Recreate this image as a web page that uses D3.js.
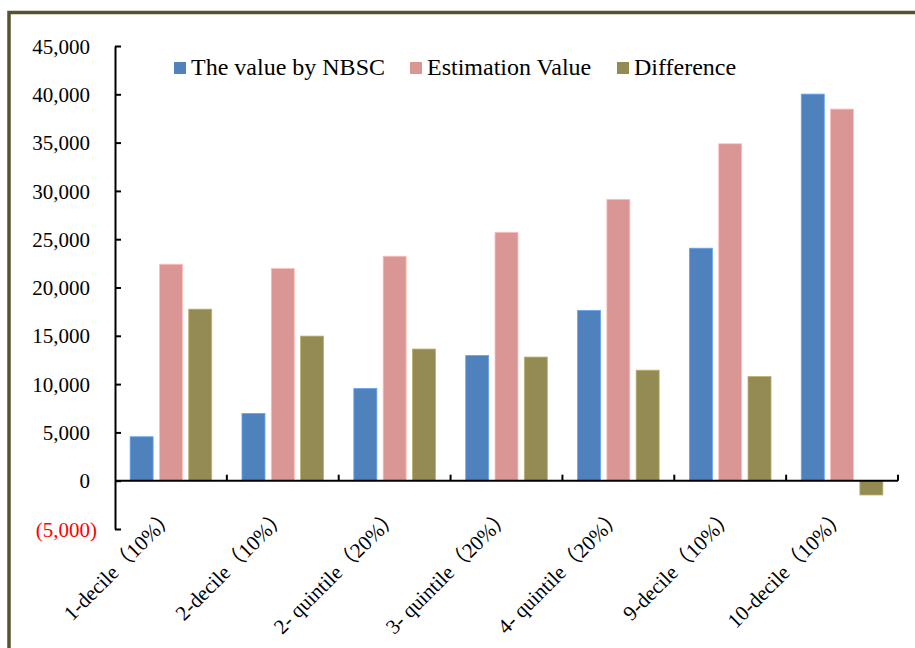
<!DOCTYPE html>
<html>
<head>
<meta charset="utf-8">
<script src="https://cdn.jsdelivr.net/npm/d3@7/dist/d3.min.js"></script>
<style>
  html, body { margin: 0; padding: 0; background: #fff; }
  svg { display: block; }
  text { font-family: "Liberation Serif", "Times New Roman", "Noto Sans CJK SC", serif; }
</style>
</head>
<body>
<svg id="chart" width="915" height="648"></svg>
<script>
// Income groups and the three compared series
const categories = [
  "1-decile（10%）",
  "2-decile（10%）",
  "2- quintile（20%）",
  "3- quintile（20%）",
  "4- quintile（20%）",
  "9-decile（10%）",
  "10-decile（10%）"
];
const seriesNames = ["The value by NBSC", "Estimation Value", "Difference"];
const nbscValues = [4550, 6960, 9550, 12970, 17630, 24070, 40020];
const estimationValues = [22410, 21970, 23240, 25720, 29130, 34880, 38470];
const differenceValues = [17760, 14970, 13630, 12800, 11440, 10780, -1480];
const yTicks = [-5000, 0, 5000, 10000, 15000, 20000, 25000, 30000, 35000, 40000, 45000];
const seriesColors = ["#4F81BD", "#D99694", "#948A54"];

const svg = d3.select("#chart");

// outer frame
svg.append("rect")
  .attr("x", 9).attr("y", 12.5)
  .attr("width", 940).attr("height", 700)
  .attr("fill", "none")
  .attr("stroke", "#57532F")
  .attr("stroke-width", 3.5);

const plot = { left: 115, right: 898, top: 46, bottom: 529 };

const y = d3.scaleLinear()
  .domain([-5000, 45000])
  .range([plot.bottom, plot.top]);

const x = d3.scaleBand()
  .domain(categories)
  .range([plot.left, plot.right])
  .paddingInner(0).paddingOuter(0);

const xs = d3.scaleBand()
  .domain(seriesNames)
  .range([0, x.bandwidth()])
  .paddingInner(0.215)
  .paddingOuter(0.516);

const seriesValues = [nbscValues, estimationValues, differenceValues];

// bars
seriesNames.forEach((name, si) => {
  const c = seriesColors[si];
  svg.append("g")
    .selectAll("rect")
    .data(seriesValues[si].map((v, i) => ({ cat: categories[i], v })))
    .join("rect")
    .attr("x", d => x(d.cat) + xs(name))
    .attr("width", xs.bandwidth())
    .attr("y", d => y(Math.max(0, d.v)))
    .attr("height", d => Math.abs(y(d.v) - y(0)))
    .attr("fill", c)
    .attr("stroke", d3.color(c).brighter(0.7))
    .attr("stroke-width", 0.8);
});

// y axis
const yAxis = d3.axisLeft(y)
  .tickValues(yTicks)
  .tickSizeInner(-6)
  .tickSizeOuter(0)
  .tickPadding(0)
  .tickFormat(v => v < 0 ? "(" + d3.format(",")(-v) + ")" : d3.format(",")(v));

const gy = svg.append("g")
  .attr("transform", `translate(${plot.left},0)`)
  .call(yAxis);
gy.select(".domain").attr("stroke", "#000").attr("stroke-width", 2);
gy.selectAll(".tick line").attr("stroke", "#000").attr("stroke-width", 2);
gy.selectAll(".tick text")
  .attr("x", 97 - plot.left)
  .attr("dx", d => d < 0 ? 0 : "-0.333em")
  .attr("dy", "0.34em")
  .attr("font-size", 21)
  .attr("font-family", "Liberation Serif, Times New Roman, serif")
  .attr("fill", d => d < 0 ? "#FF0000" : "#000");

// x axis along zero with ticks at category boundaries
const gx = svg.append("g").attr("transform", `translate(0,${y(0)})`);
gx.append("line")
  .attr("x1", plot.left).attr("x2", plot.right)
  .attr("stroke", "#000").attr("stroke-width", 2);
const boundaries = categories.map(c => x(c) + x.bandwidth());
gx.selectAll(".bound")
  .data(boundaries)
  .join("line")
  .attr("class", "bound")
  .attr("x1", d => d).attr("x2", d => d)
  .attr("y1", 0).attr("y2", -6)
  .attr("stroke", "#000").attr("stroke-width", 2);

// rotated category labels
svg.append("g")
  .selectAll("text")
  .data(categories)
  .join("text")
  .attr("transform", d => `translate(${x(d) + x.bandwidth() / 2 + 6},517) rotate(-45)`)
  .attr("text-anchor", "end")
  .attr("font-size", 21)
  .attr("fill", "#000")
  .text(d => d);

// legend
const legendX = [174, 410, 617];
const lg = svg.append("g");
seriesNames.forEach((name, i) => {
  lg.append("rect")
    .attr("x", legendX[i]).attr("y", 62)
    .attr("width", 12).attr("height", 12)
    .attr("fill", seriesColors[i]);
  lg.append("text")
    .attr("x", legendX[i] + 17).attr("y", 75)
    .attr("font-size", 24)
    .attr("fill", "#000")
    .text(name);
});
</script>
</body>
</html>
